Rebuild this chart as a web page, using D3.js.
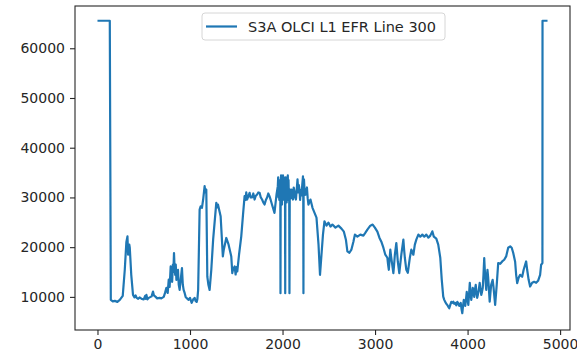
<!DOCTYPE html>
<html>
<head>
<meta charset="utf-8">
<script src="https://cdn.jsdelivr.net/npm/d3@7"></script>
<style>
  body { margin: 0; background: #fff; }
  svg { display: block; font-family: "DejaVu Sans", sans-serif; }
</style>
</head>
<body>
<div id="chart"></div>
<script>
// values (column index along line 300, radiance counts)
const sampleIdx = [
  0,133,144,165,188,215,241,273,295,312,
  324,331,338,344,349,365,384,400,412,424,
  440,455,478,500,515,522,529,540,554,585,
  600,610,629,645,672,690,716,730,745,759,
  770,780,791,800,807,815,820,827,833,840,
  846,853,861,870,878,888,900,913,922,931,
  942,953,968,985,1000,1018,1035,1050,1060,1072,
  1080,1088,1104,1115,1129,1142,1158,1166,1176,1187,
  1198,1212,1230,1250,1284,1293,1302,1331,1355,1365,
  1392,1417,1446,1457,1465,1482,1493,1503,1511,1530,
  1554,1573,1590,1600,1608,1617,1630,1644,1655,1671,
  1684,1698,1710,1725,1738,1752,1765,1779,1792,1806,
  1820,1833,1846,1859,1872,1886,1913,1935,1949,1953,
  1957,1961,1965,1968,1972,1976,1978,1980,1984,1987,
  1991,1994,1998,2002,2005,2009,2013,2016,2020,2024,
  2027,2029,2031,2035,2038,2042,2045,2048,2052,2057,
  2061,2065,2068,2072,2075,2078,2081,2089,2097,2105,
  2113,2121,2129,2137,2145,2153,2162,2170,2176,2183,
  2190,2197,2205,2213,2221,2224,2226,2228,2232,2240,
  2248,2256,2264,2272,2280,2302,2324,2345,2367,2389,
  2405,2421,2437,2453,2475,2496,2518,2539,2572,2604,
  2637,2663,2685,2701,2723,2744,2766,2782,2809,2841,
  2874,2896,2917,2949,2974,2998,3025,3047,3068,3090,
  3111,3133,3141,3149,3157,3165,3173,3181,3198,3206,
  3214,3230,3238,3246,3262,3284,3306,3314,3322,3338,
  3354,3376,3392,3414,3430,3446,3468,3489,3511,3532,
  3554,3576,3597,3619,3635,3662,3683,3705,3721,3737,
  3748,3759,3770,3781,3792,3802,3813,3824,3835,3846,
  3856,3867,3878,3889,3900,3910,3918,3926,3935,3943,
  3951,3959,3967,3975,3983,3991,3999,4008,4016,4024,
  4032,4040,4048,4056,4064,4072,4080,4088,4096,4104,
  4112,4121,4131,4140,4148,4156,4164,4172,4180,4186,
  4191,4197,4202,4208,4215,4222,4228,4234,4239,4247,
  4255,4271,4280,4288,4298,4315,4331,4353,4374,4396,
  4417,4439,4461,4477,4493,4514,4525,4536,4552,4568,
  4590,4606,4622,4633,4644,4660,4676,4698,4719,4741,
  4762,4784,4795,4809,4810,4864];

const radiance = [
  65535,65535,9400,9100,9200,9000,9400,10200,15450,21000,
  22170,18500,19490,20500,19890,14440,10400,9900,10300,9800,
  9600,9900,9600,9500,10200,9600,10400,9500,9800,10100,
  11070,10300,10000,9700,9800,9700,10000,10800,11820,10810,
  13500,12000,16120,14200,13030,16500,15000,18820,16000,14440,
  16500,13430,15000,15450,12500,11410,13500,15790,12500,11410,
  10800,10000,9700,9400,9800,8790,9500,9800,9200,8990,
  9600,11410,27560,28200,27910,29580,32270,31000,31600,14100,
  12500,11410,15450,21510,28920,28000,28570,26210,18140,19500,
  21850,20500,18140,14780,15500,16120,14500,16000,15110,18480,
  22170,26560,30250,29500,31000,29580,30200,30940,30000,29990,
  30800,29580,30300,30590,31000,30940,30000,29580,29000,28570,
  29500,29990,30800,30250,29500,28570,26900,30590,32270,34030,
  30000,33500,29500,33000,29800,31000,10750,32000,34430,29500,
  33800,28570,34200,29500,34430,30000,33800,29580,34000,30500,
  32000,10750,31500,34030,29800,33500,29000,33200,29500,34430,
  30000,33500,30500,31500,10750,30000,31590,29800,31600,30500,
  29580,32000,31200,30000,29580,31500,33620,31000,32500,31600,
  29500,31500,30390,32500,34230,30000,10750,31000,33620,30500,
  30590,31500,32000,29800,28570,29580,27910,26960,25950,20500,
  14440,18480,22520,25200,24330,24940,24130,24540,23930,24330,
  23730,23120,21510,19150,18880,19490,21100,22520,22110,22520,
  22320,22920,23530,24330,24540,23930,23120,21910,21100,19890,
  18480,17870,16500,15450,17500,19490,18200,17070,14780,16500,
  18480,20840,19000,17070,14780,18480,21510,19500,17870,15450,
  14850,17870,19490,18480,20500,21510,22520,22110,22520,22110,
  22520,21910,22320,23180,22110,21710,20500,17870,13430,10060,
  9400,8990,8600,8380,8000,7720,8400,8990,8800,9050,
  8600,8790,8300,8990,8700,8180,8500,8790,7500,6710,
  8200,9390,8700,8180,9500,11010,9600,8380,10500,12830,
  10800,9390,10500,11820,10800,10000,11500,12420,10800,9800,
  10500,11410,12830,11500,10400,11000,11820,14500,17810,15500,
  14440,12500,11410,13500,15450,14000,12420,10500,9050,10800,
  12420,13430,12000,10400,8380,12420,16800,16660,17130,17470,
  18140,19890,20160,19890,18880,17070,14440,12770,13840,14440,
  14040,15450,16460,17130,15450,13430,12080,12830,13030,12830,
  13230,14440,16460,16800,65535,65535];

const xTicks = [0, 1000, 2000, 3000, 4000, 5000];
const yTicks = [10000, 20000, 30000, 40000, 50000, 60000];
const seriesName = "S3A OLCI L1 EFR Line 300";

const W = 577, H = 354;
const plotL = 75, plotR = 570, plotT = 6, plotB = 330;

const svg = d3.select("#chart").append("svg")
  .attr("width", W).attr("height", H);

const x = d3.scaleLinear().domain([-243, 5107]).range([plotL, plotR]);
const y = d3.scaleLinear().domain([3340, 68500]).range([plotB, plotT]);

const pts = sampleIdx.map((d, i) => [d, radiance[i]]);

// line
const line = d3.line().x(d => x(d[0])).y(d => y(d[1]));
svg.append("path")
  .attr("d", line(pts))
  .attr("fill", "none")
  .attr("stroke", "#1f77b4")
  .attr("stroke-width", 2.2)
  .attr("stroke-linejoin", "round");

// axes
const xAxis = svg.append("g")
  .attr("transform", `translate(0,${plotB})`)
  .call(d3.axisBottom(x).tickValues(xTicks).tickSize(5).tickPadding(4).tickFormat(d3.format("d")));
const yAxis = svg.append("g")
  .attr("transform", `translate(${plotL},0)`)
  .call(d3.axisLeft(y).tickValues(yTicks).tickSize(5).tickPadding(5).tickFormat(d3.format("d")));

[xAxis, yAxis].forEach(g => {
  g.select(".domain").remove();
  g.selectAll("text").attr("font-size", 14).attr("fill", "#262626")
    .attr("font-family", "DejaVu Sans, sans-serif");
  g.selectAll("line").attr("stroke", "#262626").attr("stroke-width", 1.1);
});

// frame
svg.append("rect")
  .attr("x", plotL).attr("y", plotT)
  .attr("width", plotR - plotL).attr("height", plotB - plotT)
  .attr("fill", "none").attr("stroke", "#262626").attr("stroke-width", 1.1);

// legend
const lg = svg.append("g").attr("transform", "translate(202,13)");
lg.append("rect")
  .attr("width", 243).attr("height", 27).attr("rx", 3)
  .attr("fill", "#fff").attr("fill-opacity", 0.8)
  .attr("stroke", "#d6d6d6").attr("stroke-width", 1);
lg.append("line")
  .attr("x1", 4).attr("x2", 35).attr("y1", 13.5).attr("y2", 13.5)
  .attr("stroke", "#1f77b4").attr("stroke-width", 2.2);
lg.append("text")
  .attr("x", 46).attr("y", 18.5)
  .attr("font-size", 14.5).attr("fill", "#262626")
  .text(seriesName);
</script>
</body>
</html>
